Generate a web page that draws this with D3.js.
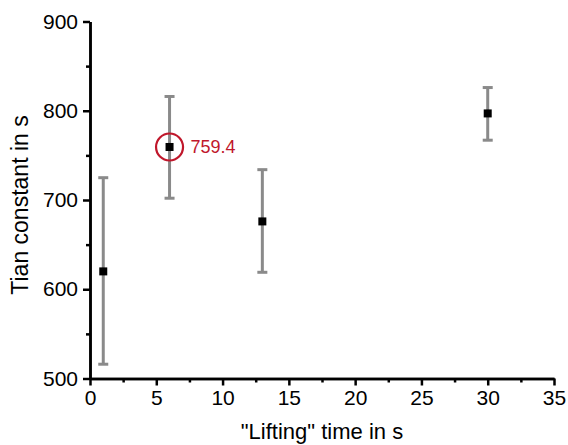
<!DOCTYPE html>
<html>
<head>
<meta charset="utf-8">
<script src="https://cdn.jsdelivr.net/npm/d3@7"></script>
<style>
  body { margin: 0; background: #fff; }
  text { font-family: "Liberation Sans", Arial, sans-serif; }
</style>
</head>
<body>
<svg id="chart" width="568" height="445"></svg>
<script>
// lifting time (s) vs Tian constant (s)
const liftTimes = [1, 6, 13, 30]
const tianValues = [620, 759.4, 676, 797]
const errLow = [516, 702, 619, 767]
const errHigh = [725, 816, 734, 826]
const xTicks = [0, 5, 10, 15, 20, 25, 30, 35]
const yTicks = [500, 600, 700, 800, 900]
const highlightIndex = 1

const svg = d3.select("#chart")
const font = "Liberation Sans, Arial, sans-serif"

const x = d3.scaleLinear().domain([0, 35]).range([90, 554])
const y = d3.scaleLinear().domain([500, 900]).range([378.5, 21.5])

// axes
const xAxis = svg.append("g").attr("transform", `translate(0,${y(500)})`)
  .call(d3.axisBottom(x).tickValues(xTicks).tickSize(7).tickPadding(5).tickSizeOuter(0))
svg.append("g").attr("transform", `translate(0,${y(500)})`)
  .call(d3.axisBottom(x).tickValues(d3.range(2.5, 35, 5)).tickSize(4).tickFormat("").tickSizeOuter(0))

const yAxis = svg.append("g").attr("transform", `translate(${x(0)},0)`)
  .call(d3.axisLeft(y).tickValues(yTicks).tickSize(7).tickPadding(5).tickSizeOuter(0))
svg.append("g").attr("transform", `translate(${x(0)},0)`)
  .call(d3.axisLeft(y).tickValues(d3.range(550, 900, 100)).tickSize(4).tickFormat("").tickSizeOuter(0))

svg.selectAll(".domain").attr("stroke", "#000").attr("stroke-width", 2.5)
svg.selectAll(".tick line").attr("stroke", "#000").attr("stroke-width", 2.5)
svg.selectAll("g").attr("font-family", font).attr("font-size", 21)
xAxis.selectAll("text").attr("fill", "#000")
yAxis.selectAll("text").attr("fill", "#000")

// axis titles
svg.append("text")
  .attr("x", x(17.5)).attr("y", 439)
  .attr("text-anchor", "middle").attr("font-size", 22)
  .text("\"Lifting\" time in s")

svg.append("text")
  .attr("transform", `translate(28,205) rotate(-90)`)
  .attr("text-anchor", "middle").attr("font-size", 23)
  .text("Tian constant in s")

// error bars
const err = svg.append("g")
  .selectAll("g")
  .data(liftTimes.map((t, i) => ({ t, lo: errLow[i], hi: errHigh[i] })))
  .join("g")
  .attr("stroke", "#8a8a8a")
  .attr("stroke-width", 3)

err.append("line")
  .attr("x1", d => x(d.t)).attr("x2", d => x(d.t))
  .attr("y1", d => y(d.lo)).attr("y2", d => y(d.hi))
err.append("line")
  .attr("x1", d => x(d.t) - 5).attr("x2", d => x(d.t) + 5)
  .attr("y1", d => y(d.lo)).attr("y2", d => y(d.lo))
err.append("line")
  .attr("x1", d => x(d.t) - 5).attr("x2", d => x(d.t) + 5)
  .attr("y1", d => y(d.hi)).attr("y2", d => y(d.hi))

// points
svg.append("g")
  .selectAll("rect")
  .data(liftTimes.map((t, i) => ({ t, v: tianValues[i] })))
  .join("rect")
  .attr("x", d => x(d.t) - 4).attr("y", d => y(d.v) - 4)
  .attr("width", 8).attr("height", 8)
  .attr("fill", "#000")

// highlighted point
const hx = x(liftTimes[highlightIndex]), hy = y(tianValues[highlightIndex])
svg.append("circle")
  .attr("cx", hx).attr("cy", hy).attr("r", 13.5)
  .attr("fill", "none").attr("stroke", "#c0172b").attr("stroke-width", 2.2)
svg.append("text")
  .attr("x", hx + 21).attr("y", hy + 6.5)
  .attr("font-size", 18).attr("fill", "#c0172b")
  .text(tianValues[highlightIndex].toFixed(1))
</script>
</body>
</html>
